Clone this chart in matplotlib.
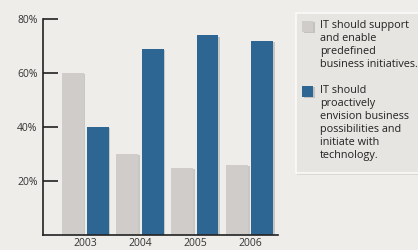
import matplotlib
matplotlib.use("Agg")
import matplotlib.pyplot as plt
import matplotlib.patheffects as pe
from matplotlib.patches import Rectangle
import numpy as np

# Data
years = ["2003", "2004", "2005", "2006"]
support = [60, 30, 25, 26]
envision = [40, 69, 74, 72]
labels = [
    "IT should support\nand enable\npredefined\nbusiness initiatives.",
    "IT should\nproactively\nenvision business\npossibilities and\ninitiate with\ntechnology.",
]
yticks = [20, 40, 60, 80]

bg = "#EEEDE9"
gray = "#D0CCCA"
blue = "#2E6693"

plt.rcParams["font.family"] = ["Open Sans", "DejaVu Sans"]

fig = plt.figure(figsize=(4.18, 2.5), dpi=100, facecolor=bg)
ax = fig.add_axes([0.103, 0.06, 0.562, 0.864], facecolor=bg)

x = np.arange(len(years))
shadow = [pe.SimplePatchShadow(offset=(1.2, -1), shadow_rgbFace="#999999", alpha=0.45), pe.Normal()]
b1 = ax.bar(x - 0.228, support, width=0.4, color=gray, zorder=2)
b2 = ax.bar(x + 0.228, envision, width=0.4, color=blue, zorder=2)
for p in list(b1) + list(b2):
    p.set_path_effects(shadow)

ax.set_xlim(-0.764, 3.51)
ax.set_ylim(0, 80)
ax.set_yticks(yticks)
ax.set_yticklabels([f"{v}%" for v in yticks], fontsize=7.5, color="#333333")
ax.set_xticks(x)
ax.set_xticklabels(years, fontsize=7.5, color="#333333")
ax.tick_params(axis="y", direction="in", length=11, width=1.2, color="#222222", pad=4)
ax.tick_params(axis="x", length=0, pad=2)
for s in ["top", "right"]:
    ax.spines[s].set_visible(False)
for s in ["left", "bottom"]:
    ax.spines[s].set_color("#222222")
    ax.spines[s].set_linewidth(1.2)

# legend box drawn by hand so the swatches sit at the first line
fig.patches.append(Rectangle((0.711, 0.302), 0.31, 0.640, transform=fig.transFigure,
                             facecolor="#C8C7C4", edgecolor="none", alpha=0.5, zorder=1))
fig.patches.append(Rectangle((0.708, 0.308), 0.31, 0.640, transform=fig.transFigure,
                             facecolor="#E6E5E2", edgecolor="#FAFAFA", linewidth=1.2, zorder=2))
swatch_y = [0.872, 0.612]
text_y = [0.920, 0.660]
for lab, col, sy, ty in zip(labels, [gray, blue], swatch_y, text_y):
    sw = Rectangle((0.7225, sy), 0.0263, 0.044, transform=fig.transFigure,
                   facecolor=col, edgecolor="none", zorder=3)
    sw.set_path_effects(shadow)
    fig.patches.append(sw)
    fig.text(0.766, ty, lab, fontsize=7.8, color="#222222", va="top", ha="left",
             linespacing=1.24, zorder=4)

fig.savefig("out.png", dpi=100, facecolor=bg)
